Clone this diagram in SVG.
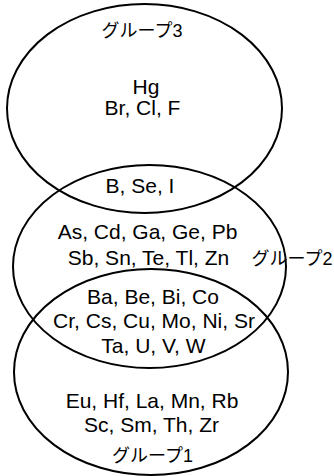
<svg xmlns="http://www.w3.org/2000/svg" width="334" height="476" viewBox="0 0 334 476">
<style>
.e{fill:none;stroke:#000;stroke-width:2}
.t{font-family:"Liberation Sans","Noto Sans CJK JP",sans-serif;font-size:21px;fill:#000;text-anchor:middle}
.j{font-family:"Liberation Sans","Noto Sans CJK JP",sans-serif;font-size:18px;fill:#000;text-anchor:middle}
</style>
<rect width="334" height="476" fill="#fff"/>
<g id="group3">
<ellipse class="e" cx="144.5" cy="108.5" rx="137.5" ry="104.5"/>
<text class="j" x="142" y="37">グループ3</text>
<text class="t" x="146" y="94">Hg</text>
<text class="t" x="142.5" y="115">Br, Cl, F</text>
</g>
<g id="group2">
<ellipse class="e" cx="149.5" cy="266.5" rx="136.5" ry="101.5"/>
<text class="t" x="140" y="193">B, Se, I</text>
<text class="t" x="147.5" y="239">As, Cd, Ga, Ge, Pb</text>
<text class="t" x="148.5" y="265">Sb, Sn, Te, Tl, Zn</text>
<text class="j" x="292" y="265">グループ2</text>
</g>
<g id="group1">
<ellipse class="e" cx="151" cy="372" rx="137" ry="103"/>
<text class="t" x="153" y="304">Ba, Be, Bi, Co</text>
<text class="t" x="154" y="328">Cr, Cs, Cu, Mo, Ni, Sr</text>
<text class="t" x="153.5" y="353">Ta, U, V, W</text>
<text class="t" x="152" y="408">Eu, Hf, La, Mn, Rb</text>
<text class="t" x="151.5" y="432">Sc, Sm, Th, Zr</text>
<text class="j" x="152.5" y="462">グループ1</text>
</g>
<g id="connectors"/>
</svg>
